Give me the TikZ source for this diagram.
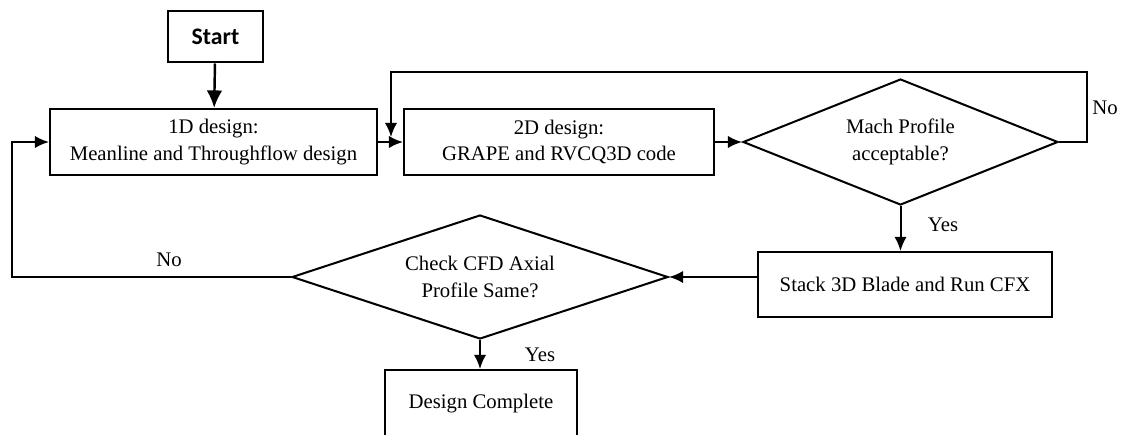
\documentclass[tikz,border=0pt]{standalone}
\usepackage{fontspec}
\setmainfont{Liberation Serif}
\newfontfamily\startfont{Carlito}
\usetikzlibrary{shapes.geometric,arrows.meta,positioning}

\begin{document}
\begin{tikzpicture}[
  font=\fontsize{11.8}{15}\selectfont,
  procbox/.style={draw,line width=1.15pt,fill=white,align=center,inner sep=0pt},
  decbox/.style={draw,diamond,line width=1.15pt,fill=white,align=center,inner sep=0pt,aspect=2.5},
  flow/.style={line width=1.15pt,-{Latex[length=8pt,width=7pt]}},
  lbl/.style={inner sep=0pt}
 ]
 \useasboundingbox (0,0) rectangle (22.52,8.68);
 \clip (0,0) rectangle (22.52,8.68);

 \node[procbox,line width=1.7pt,minimum width=1.9cm,minimum height=1.02cm,font=\startfont\bfseries\fontsize{13.5}{15}\selectfont] (start) at (4.31,7.95) {Start};
 \node[procbox,minimum width=6.54cm,minimum height=1.32cm] (d1) at (4.27,5.84) {1D design:\\Meanline and Throughflow design};
 \node[procbox,minimum width=6.2cm,minimum height=1.32cm] (d2) at (11.18,5.84) {2D design:\\GRAPE and RVCQ3D code};
 \node[decbox,minimum width=6.3cm,minimum height=2.52cm] (mach) at (18.01,5.84) {Mach Profile\\acceptable?};
 \node[procbox,minimum width=5.88cm,minimum height=1.3cm] (stack) at (18.1,2.99) {Stack 3D Blade and Run CFX};
 \node[decbox,minimum width=7.52cm,minimum height=2.48cm] (cfd) at (9.6,3.14) {Check CFD Axial\\Profile Same?};
 \node[procbox,minimum width=3.84cm,minimum height=1.36cm] (done) at (9.62,0.6) {Design Complete};

 \coordinate (noturn) at (21.74,7.24);
 \coordinate (notip) at (7.82,5.94);
 \coordinate (backturn) at (0.24,5.84);

 \draw[flow,-{Latex[length=10pt,width=9pt]},line width=1.4pt] (start) -- (d1);
 \draw[flow] (d1) -- (d2);
 \draw[flow] (d2) -- (mach);
 \draw[flow] (mach.south) -- (mach.south |- stack.north);
 \draw[flow] (stack.west |- cfd.east) -- (cfd.east);
 \draw[flow] (cfd.south) -- (cfd.south |- done.north);
 \draw[flow] (mach.east) -| (noturn) -| (notip);
 \draw[flow] (cfd.west) -| (backturn) -- (d1.west);

 \node[lbl] (nomach) at (22.1,6.52) {No};
 \node[lbl] (yesmach) at (18.86,4.18) {Yes};
 \node[lbl] (nocfd) at (3.38,3.48) {No};
 \node[lbl] (yescfd) at (10.8,1.58) {Yes};
\end{tikzpicture}
\end{document}
